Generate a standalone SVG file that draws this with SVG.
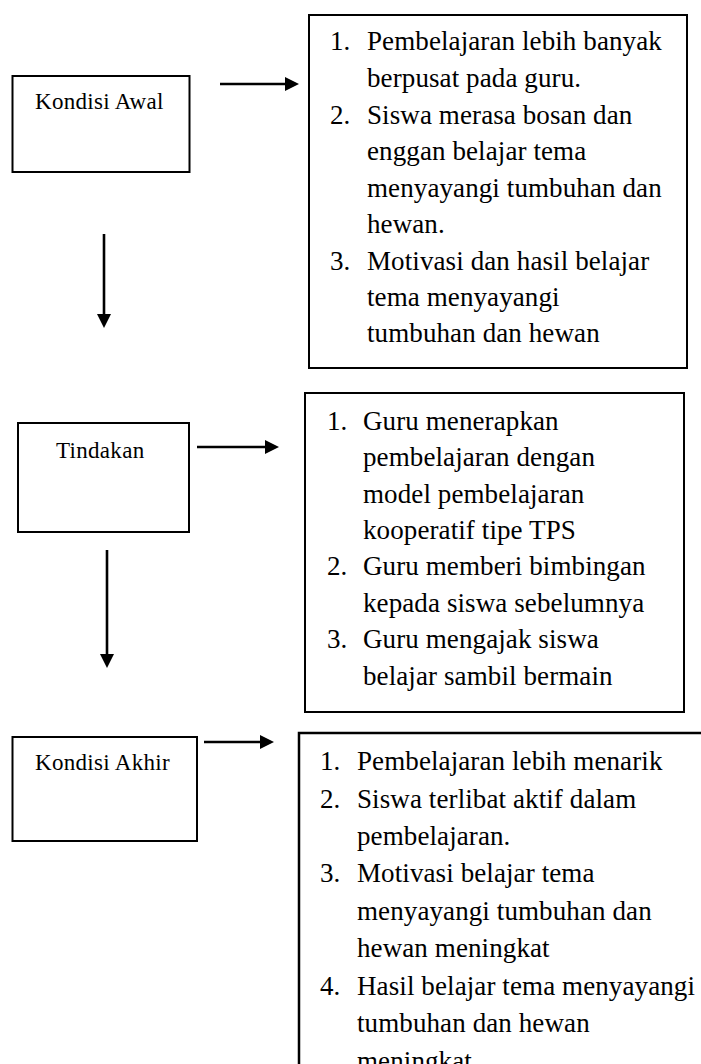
<svg xmlns="http://www.w3.org/2000/svg" width="701" height="1064" viewBox="0 0 701 1064">
<style>
.box{fill:#fff;stroke:#000;stroke-width:2}
.lbl{font-family:"Liberation Serif",serif;font-size:23px;letter-spacing:0.3px;fill:#000}
.li{font-family:"Liberation Serif",serif;font-size:27px;letter-spacing:0.1px;fill:#000}
.con{stroke:#000;stroke-width:2.6;fill:none;marker-end:url(#ah)}
</style>
<defs>
<marker id="ah" viewBox="0 0 10 10" markerWidth="14" markerHeight="14" markerUnits="userSpaceOnUse" refX="4" refY="5" orient="auto">
<path d="M0,0 L10,5 L0,10 Z" fill="#000"/>
</marker>
</defs>
<rect width="701" height="1064" fill="#fff"/>
<g id="kondisi-awal">
<rect class="box" x="12.5" y="76" width="177" height="96"/>
<text class="lbl" x="35" y="109">Kondisi Awal</text>
</g>
<g id="kondisi-awal-list">
<rect class="box" x="309" y="15" width="378" height="353"/>
<text class="li"><tspan x="330" y="50">1.</tspan><tspan x="367" y="50">Pembelajaran lebih banyak</tspan><tspan x="367" y="87">berpusat pada guru.</tspan><tspan x="330" y="124">2.</tspan><tspan x="367" y="124">Siswa merasa bosan dan</tspan><tspan x="367" y="160">enggan belajar tema</tspan><tspan x="367" y="197">menyayangi tumbuhan dan</tspan><tspan x="367" y="233">hewan.</tspan><tspan x="330" y="270">3.</tspan><tspan x="367" y="270">Motivasi dan hasil belajar</tspan><tspan x="367" y="306">tema menyayangi</tspan><tspan x="367" y="342">tumbuhan dan hewan</tspan></text>
</g>
<g id="tindakan">
<rect class="box" x="18" y="423" width="171" height="109"/>
<text class="lbl" x="56" y="458">Tindakan</text>
</g>
<g id="tindakan-list">
<rect class="box" x="305" y="393" width="379" height="319"/>
<text class="li"><tspan x="327" y="430">1.</tspan><tspan x="363" y="430">Guru menerapkan</tspan><tspan x="363" y="466">pembelajaran dengan</tspan><tspan x="363" y="503">model pembelajaran</tspan><tspan x="363" y="539">kooperatif tipe TPS</tspan><tspan x="327" y="575">2.</tspan><tspan x="363" y="575">Guru memberi bimbingan</tspan><tspan x="363" y="612">kepada siswa sebelumnya</tspan><tspan x="327" y="648">3.</tspan><tspan x="363" y="648">Guru mengajak siswa</tspan><tspan x="363" y="685">belajar sambil bermain</tspan></text>
</g>
<g id="kondisi-akhir">
<rect class="box" x="12.5" y="737" width="184.5" height="104"/>
<text class="lbl" x="35" y="770">Kondisi Akhir</text>
</g>
<g id="kondisi-akhir-list">
<rect class="box" x="299" y="733" width="430" height="400" style="stroke-width:2.5"/>
<text class="li"><tspan x="320" y="770">1.</tspan><tspan x="357" y="770">Pembelajaran lebih menarik</tspan><tspan x="320" y="808">2.</tspan><tspan x="357" y="808">Siswa terlibat aktif dalam</tspan><tspan x="357" y="845">pembelajaran.</tspan><tspan x="320" y="882">3.</tspan><tspan x="357" y="882">Motivasi belajar tema</tspan><tspan x="357" y="920">menyayangi tumbuhan dan</tspan><tspan x="357" y="957">hewan meningkat</tspan><tspan x="320" y="995">4.</tspan><tspan x="357" y="995">Hasil belajar tema menyayangi</tspan><tspan x="357" y="1032">tumbuhan dan hewan</tspan><tspan x="357" y="1070">meningkat</tspan></text>
</g>
<g id="connectors">
<path class="con" d="M220,84 H290.6"/>
<path class="con" d="M104,234 V319.6"/>
<path class="con" d="M197,447 H270.6"/>
<path class="con" d="M107,550 V659.6"/>
<path class="con" d="M204,742 H265.6"/>
</g>
</svg>
